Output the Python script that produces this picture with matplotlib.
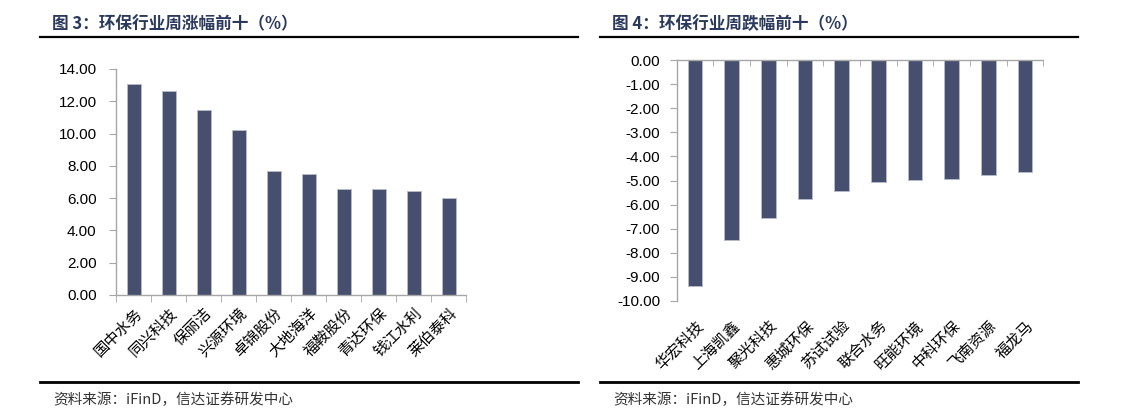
import matplotlib
matplotlib.use("Agg")
import matplotlib.pyplot as plt
from matplotlib.ticker import FixedLocator, FuncFormatter

plt.rcParams['font.family'] = ['Liberation Sans', 'Noto Sans CJK SC', 'DejaVu Sans']

up_names = ["国中水务", "同兴科技", "保丽洁", "兴源环境", "卓锦股份",
            "大地海洋", "福鞍股份", "青达环保", "钱江水利", "莱伯泰科"]
up_values = [13.07, 12.64, 11.47, 10.23, 7.69, 7.52, 6.56, 6.54, 6.45, 5.99]

down_names = ["华宏科技", "上海凯鑫", "聚光科技", "惠城环保", "苏试试验",
              "联合水务", "旺能环境", "中科环保", "飞南资源", "福龙马"]
down_values = [-9.37, -7.49, -6.57, -5.77, -5.42, -5.06, -4.99, -4.92, -4.78, -4.66]

up_ticks = [0, 2, 4, 6, 8, 10, 12, 14]
down_ticks = [0, -1, -2, -3, -4, -5, -6, -7, -8, -9, -10]

W, H = 1137, 412
fig = plt.figure(figsize=(W / 100, H / 100), dpi=100)

BAR = '#464F6D'
AXC = '#A6A6A6'
TITLE_C = '#2B3A5C'
CJK = ['Noto Sans CJK SC', 'DejaVu Sans']

def ax_px(x0, y0, x1, y1):
    return fig.add_axes([x0 / W, 1 - y1 / H, (x1 - x0) / W, (y1 - y0) / H])

def fmt(v, _):
    return f"{v:.2f}"

def hline(x0, x1, y, lw):
    fig.add_artist(plt.Line2D([x0 / W, x1 / W], [1 - y / H, 1 - y / H],
                              color='black', lw=lw, transform=fig.transFigure))

hline(40, 578, 36.5, 1.6)
hline(600, 1078, 36.5, 1.6)
hline(40, 578, 381.5, 2.0)
hline(600, 1078, 381.5, 2.0)

fig.text(52 / W, 1 - 24 / H, "图 3：环保行业周涨幅前十（%）", family=CJK, fontsize=12,
         fontweight='bold', color=TITLE_C, va='center', ha='left')
fig.text(612 / W, 1 - 24 / H, "图 4：环保行业周跌幅前十（%）", family=CJK, fontsize=12,
         fontweight='bold', color=TITLE_C, va='center', ha='left')
fig.text(53 / W, 1 - 400 / H, "资料来源：iFinD，信达证券研发中心", family=CJK, fontsize=10.5,
         color='#333333', va='center', ha='left', style='italic')
fig.text(613 / W, 1 - 400 / H, "资料来源：iFinD，信达证券研发中心", family=CJK, fontsize=10.5,
         color='#333333', va='center', ha='left', style='italic')

# left chart
ax1 = ax_px(116, 69, 466, 295)
x = list(range(len(up_names)))
ax1.bar(x, up_values, width=0.4, color=BAR, edgecolor='#B8BCCB', linewidth=0.6)
ax1.set_xlim(-0.5, len(up_names) - 0.5)
ax1.set_ylim(0, 14)
ax1.yaxis.set_major_locator(FixedLocator(up_ticks))
ax1.yaxis.set_major_formatter(FuncFormatter(fmt))
ax1.set_xticks(x)
ax1.set_xticklabels(up_names, rotation=45, ha='right', va='top',
                    rotation_mode='anchor', family=CJK, fontsize=11)
ax1.xaxis.set_minor_locator(FixedLocator([i - 0.5 for i in range(len(up_names) + 1)]))
ax1.tick_params(axis='x', which='major', length=0, pad=7)
ax1.tick_params(axis='x', which='minor', length=5, color=AXC, direction='out')
ax1.tick_params(axis='y', length=5, color=AXC, direction='out', labelsize=11, pad=9)
for s in ['top', 'right']:
    ax1.spines[s].set_visible(False)
for s in ['left', 'bottom']:
    ax1.spines[s].set_color(AXC)
    ax1.spines[s].set_linewidth(1.0)

# right chart
ax2 = ax_px(676.7, 60.3, 1043.3, 300.7)
x2 = list(range(len(down_names)))
ax2.bar(x2, down_values, width=0.4, color=BAR, edgecolor='#B8BCCB', linewidth=0.6)
ax2.set_xlim(-0.5, len(down_names) - 0.5)
ax2.set_ylim(-10, 0)
ax2.yaxis.set_major_locator(FixedLocator(down_ticks))
ax2.yaxis.set_major_formatter(FuncFormatter(fmt))
ax2.set_xticks(x2)
ax2.set_xticklabels(down_names, rotation=45, ha='right', va='top',
                    rotation_mode='anchor', family=CJK, fontsize=11)
ax2.xaxis.set_minor_locator(FixedLocator([i - 0.5 for i in range(len(down_names) + 1)]))
ax2.tick_params(axis='x', which='major', length=0, pad=12, bottom=False, top=False)
ax2.tick_params(axis='x', which='minor', length=4, color=AXC, direction='in',
                bottom=False, top=True)
ax2.tick_params(axis='y', length=5, color=AXC, direction='out', labelsize=11, pad=7)
for s in ['bottom', 'right']:
    ax2.spines[s].set_visible(False)
for s in ['left', 'top']:
    ax2.spines[s].set_color(AXC)
    ax2.spines[s].set_linewidth(1.0)

fig.savefig("out.png", dpi=100)
